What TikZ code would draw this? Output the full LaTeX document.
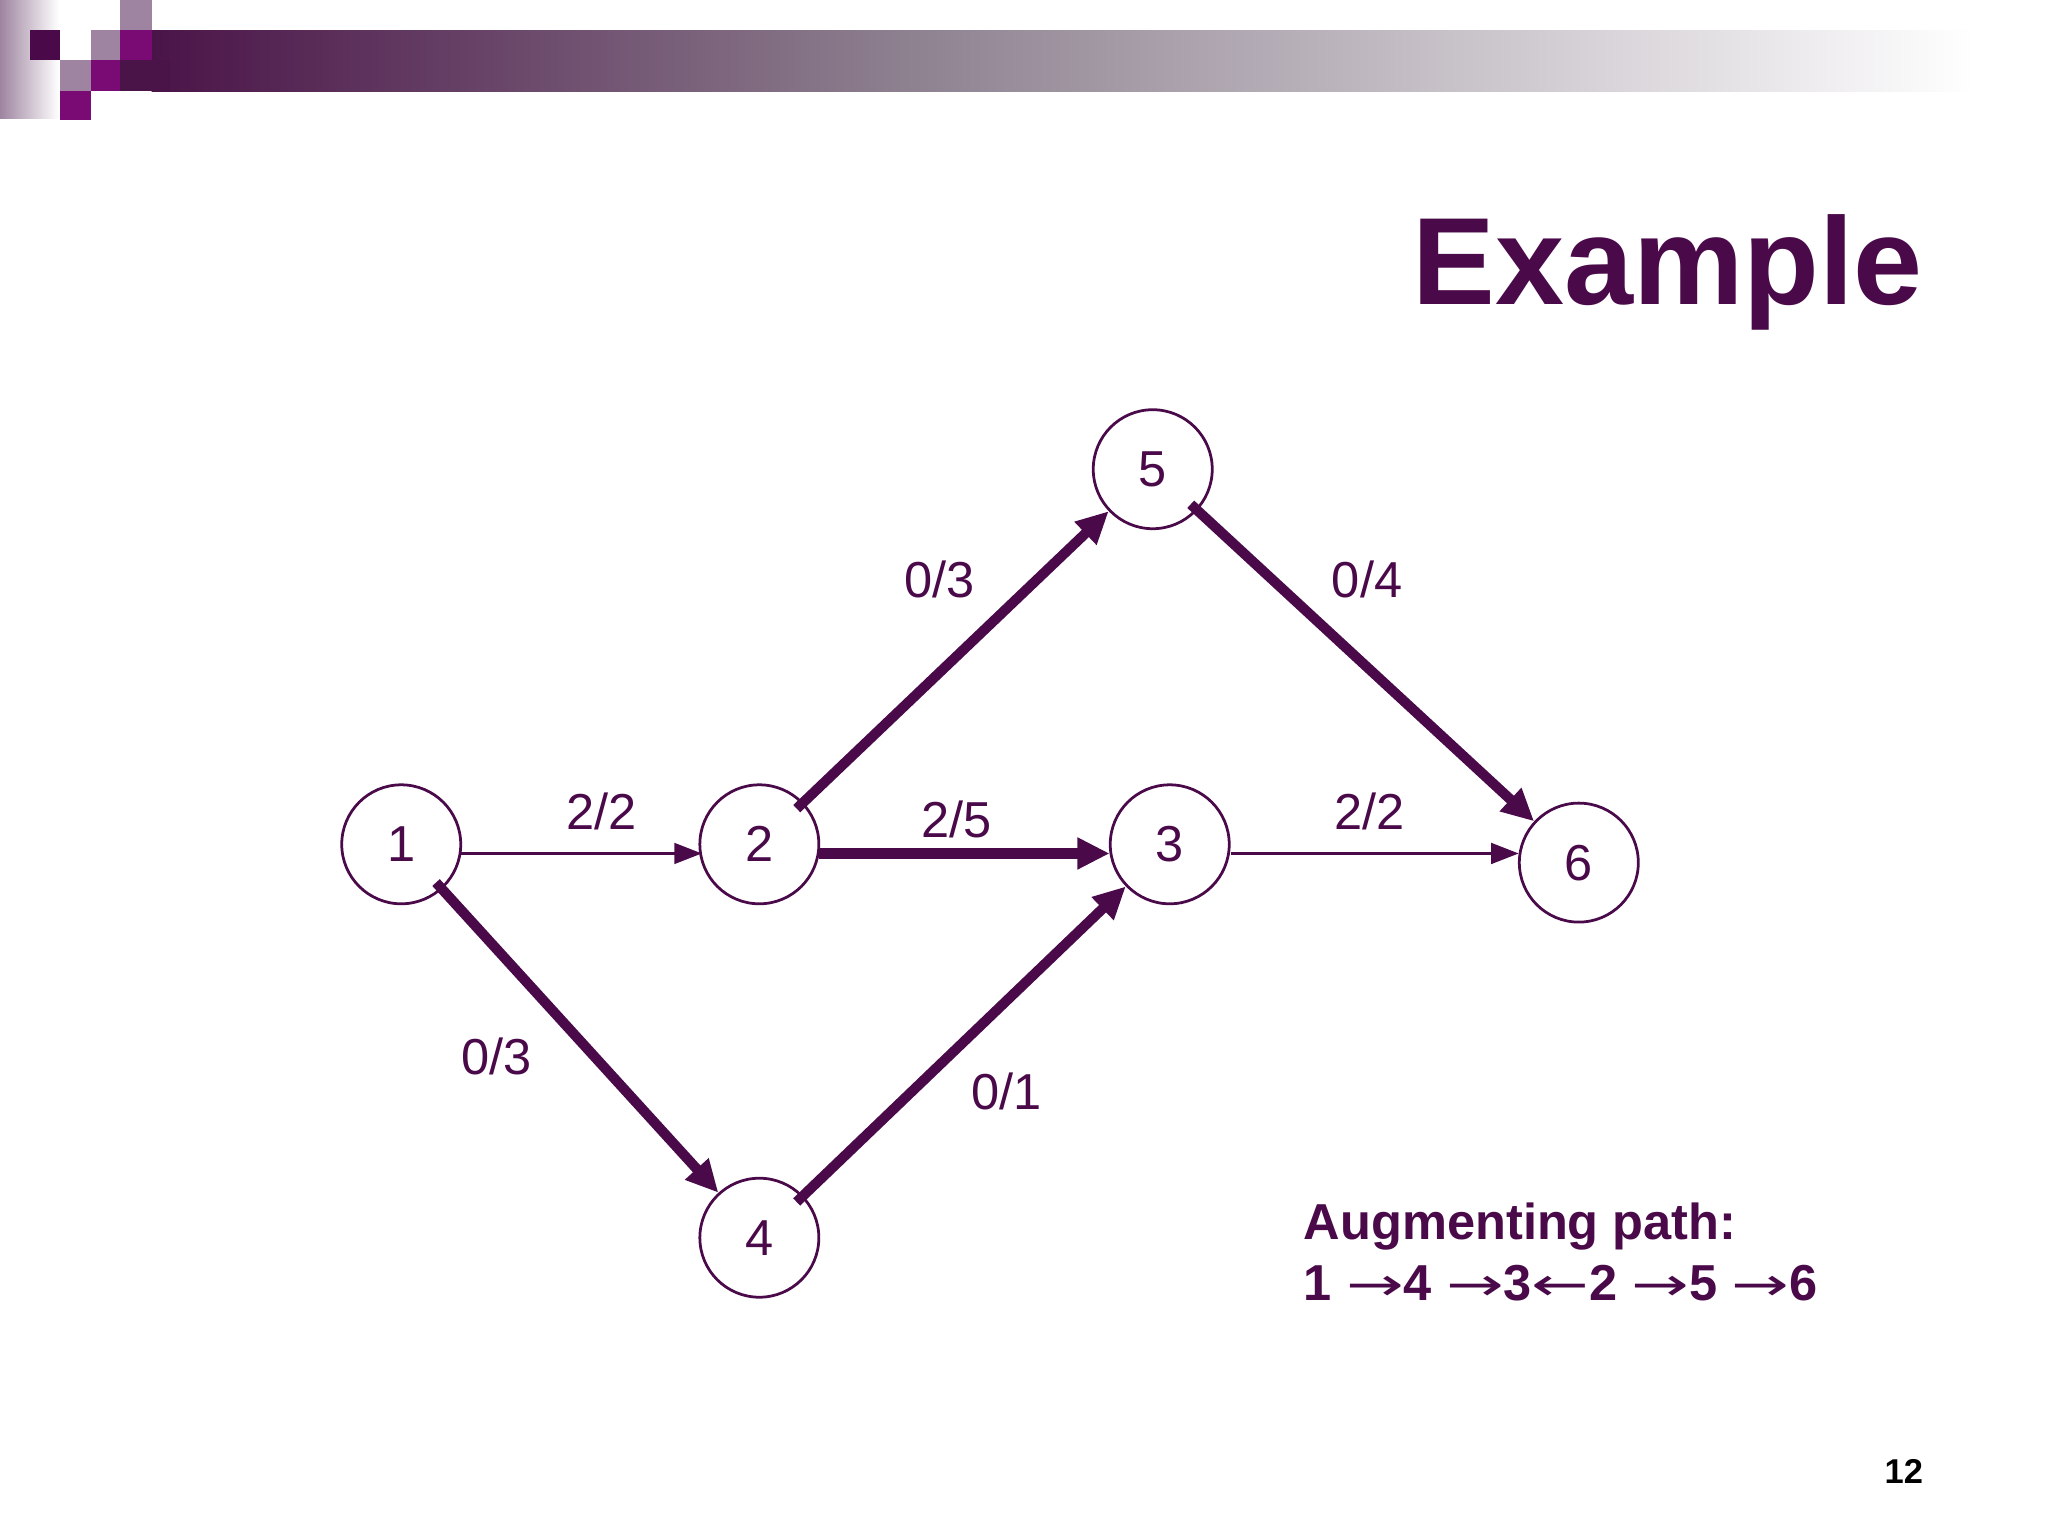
\documentclass[tikz,border=0pt]{standalone}
\usepackage{fontspec}
\usepackage{graphicx}
\setmainfont{Liberation Sans}
\usetikzlibrary{arrows.meta}
\definecolor{pur}{HTML}{4A0A4A}
\definecolor{lpur}{HTML}{9E84A0}
\definecolor{mag}{HTML}{7A0A74}
\definecolor{dpur}{HTML}{4A1448}
\definecolor{midg}{HTML}{8E8290}
\newfontfamily\arrfont{DejaVu Sans}
\newcommand{\ra}{{\normalfont\arrfont\fontsize{10}{12}\selectfont\scalebox{1.5}[1]{→}}}
\newcommand{\la}{{\normalfont\arrfont\fontsize{10}{12}\selectfont\scalebox{1.5}[1]{←}}}
\begin{document}
\begin{tikzpicture}[x=0.01cm,y=-0.01cm,
  vert/.style={circle,draw=pur,line width=0.6pt,minimum size=0.91cm,inner sep=0pt,text=pur,font=\fontsize{11}{13}\selectfont},
  lab/.style={text=pur,font=\fontsize{11}{13}\selectfont},
  thin/.style={draw=pur,line width=0.6pt,-{Triangle[length=6pt,width=4.5pt]}},
  thick/.style={draw=pur,line width=2.2pt,-{Triangle[length=7pt,width=6.5pt]},shorten <=-2pt}]
\useasboundingbox (0,0) rectangle (1567,1175);
% header decoration
\shade[left color=lpur,right color=white] (0,0) rectangle (45,91);
\shade[left color=dpur,right color=midg] (116,23) rectangle (700,70);
\shade[left color=midg,right color=white] (700,23) rectangle (1510,70);
\fill[dpur] (92,46) rectangle (130,70);
\fill[pur] (23,23) rectangle (46,46);
\fill[lpur] (70,23) rectangle (92,46);
\fill[mag] (92,23) rectangle (116,46);
\fill[lpur] (92,0) rectangle (116,23);
\fill[lpur] (46,46) rectangle (70,70);
\fill[mag] (70,46) rectangle (92,70);
\fill[mag] (46,70) rectangle (92,92);
\fill[white] (70,70) rectangle (92,92);
% title
\node[anchor=base east,text=pur,font=\bfseries\fontsize{27}{30}\selectfont,inner sep=0pt] (title) at (1472,233) {Example};
% vertices
\node[vert] (n1) at (307,646) {1};
\node[vert] (n2) at (581,646) {2};
\node[vert] (n3) at (895,646) {3};
\node[vert] (n4) at (581,947) {4};
\node[vert] (n5) at (882,359) {5};
\node[vert] (n6) at (1208,660) {6};
\coordinate (s1) at (353,653);
\coordinate (e2) at (537,653);
\coordinate (s2) at (627,653);
\coordinate (e3) at (849,653);
\coordinate (e6) at (1162,653);
% edges
\draw[thin] (s1) -- (e2);
\draw[thick,shorten <=0pt] (s2) -- (e3);
\draw[thin] (n3.east |- e6) -- (e6);
\draw[thick] (n1) -- (n4);
\draw[thick] (n4) -- (n3);
\draw[thick] (n2) -- (n5);
\draw[thick] (n5) -- (n6);
% labels
\node[lab] (l12) at (460,621) {2/2};
\node[lab] (l23) at (732,627) {2/5};
\node[lab] (l36) at (1048,621) {2/2};
\node[lab] (l25) at (719,443) {0/3};
\node[lab] (l56) at (1046,443) {0/4};
\node[lab] (l14) at (380,808) {0/3};
\node[lab] (l43) at (770,835) {0/1};
% augmenting path
\node[anchor=base west,inner sep=0pt,text=pur,font=\bfseries\fontsize{11}{13}\selectfont] (ap1) at (997,948) {Augmenting path:};
\node[anchor=base west,inner sep=0pt,text=pur,font=\bfseries\fontsize{11}{13}\selectfont] (ap2) at (997,995) {1 \ra4 \ra3\la2 \ra5 \ra6};
\node[anchor=base east,inner sep=0pt,font=\bfseries\fontsize{7.5}{9}\selectfont] (pg) at (1472,1135) {12};
\end{tikzpicture}
\end{document}
